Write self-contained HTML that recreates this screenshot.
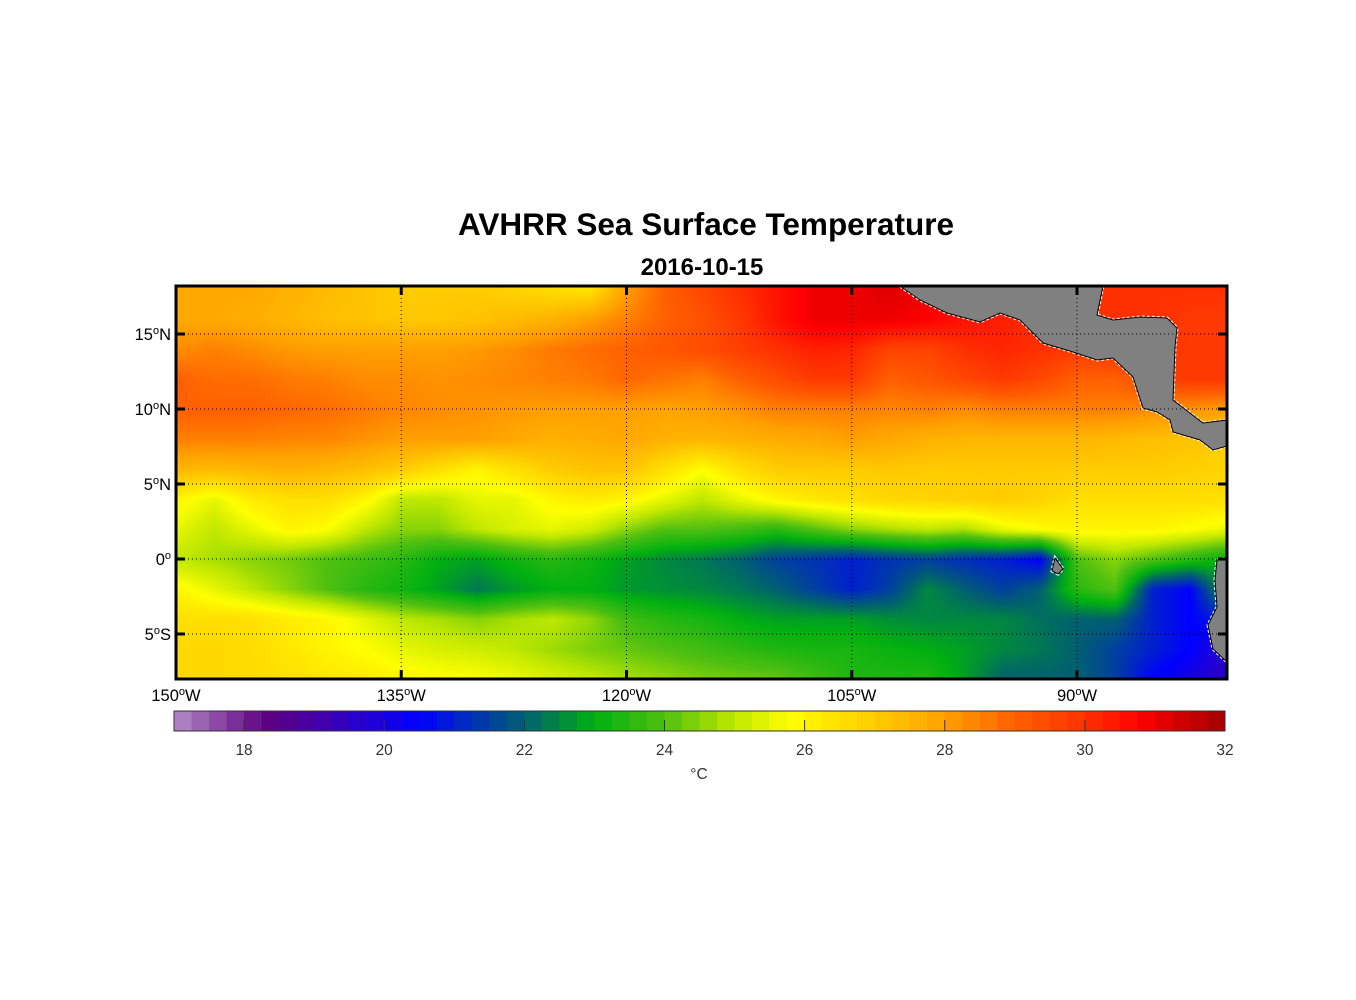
<!DOCTYPE html>
<html><head><meta charset="utf-8"><style>
html,body{margin:0;padding:0;background:#fff;}
#wrap{position:relative;width:1356px;height:1000px;font-family:"Liberation Sans",Arial,sans-serif;}
canvas{position:absolute;left:0;top:0;}
svg{position:absolute;left:0;top:0;}
</style></head><body>
<div id="wrap">
<canvas id="cv" width="1356" height="1000"></canvas>
<svg id="sv" width="1356" height="1000"></svg>
</div>
<script>
const lons = [];
for (let i = 0; i < 29; i++) lons.push(-150 + i * 2.5);
const lats = [18,16,14,12,10,8,6,4,2,0,-2,-4,-6,-8];
const sst = [
[27.8,27.8,27.8,27.6,27.4,27.2,27,27,27,26.8,26.6,26.4,28,29,29.5,30,30.5,31,31,31.2,31,30.5,30,30,30,30,30,30,30],
[27.8,27.8,27.7,27.5,27.3,27.2,27.1,27.1,27.2,27.4,27.6,28,28.5,29,29.3,29.8,30.5,31,31,31,30.8,30.5,30.3,30,30,30,30,29.8,29.8],
[28.3,28.5,28.3,28.1,28,28,28,28,28.1,28.3,28.6,28.8,29,29.2,29.4,29.7,30,30.3,30.2,29.6,29.6,30,30.2,30,29.8,30,30,29.8,29.8],
[29,28.8,28.8,28.6,28.5,28.3,28.3,28.2,28.3,28.4,28.5,28.6,28.9,28.7,28.5,29,29.4,29.8,29.8,29,29.2,29.5,29.8,29.5,29,29,29.5,29.8,29.8],
[29,29,29,28.9,28.8,28.6,28.4,28.3,28.2,28.1,28,28,28,27.9,28,28.2,28.5,28.5,28.5,28.4,28.5,28.3,28.5,28.5,28.5,28.5,28.3,28.2,28],
[28.5,28.5,28.5,28.4,28.4,28.2,28,28,28,27.8,27.6,27.7,27.8,27.6,27.5,27.6,27.7,27.8,28,27.8,27.6,27.5,27.5,27.5,27.5,27.4,27.3,27.2,27],
[27.5,27.4,27.5,27.6,27.5,27.3,27,26.5,26,26.5,27,27.2,27.2,26.5,25.8,26.5,27,27,27,27.1,27,27,27,27,27,27,27,26.9,26.8],
[26,25.5,26.2,26.5,26.5,26,25,25,25.5,25.5,26,26.2,26,25.5,25,25.5,26,26.3,26.5,26.7,26.8,26.9,27,26.8,26.5,26.5,26.5,26.5,26.5],
[25.5,25,25.5,26,25.8,25,24.5,24.5,25,25.3,25.5,25.2,24.5,24,24,23.8,23.5,24,24.5,24.8,25,24.8,25.5,25.8,26,26,26,25.8,25.5],
[25,24.8,24.5,24.3,24,23.8,23.5,23,22.8,23.2,23.5,23.2,22.8,22.5,22.3,22,21.5,21.3,21,21.3,21.5,21.2,21,20.5,24,24.5,24,23.5,23],
[26,25.5,25,24.5,24,23.5,23.2,22.8,22.3,22.7,23,23,22.7,22.6,22.5,22.3,22,21.5,21,21.5,22.5,22,21.5,22,23.5,24,21,20.5,23],
[26.5,26.5,26.5,26.2,26,25.5,25,24.8,24.5,24.8,25,24.6,23.8,23.5,23.3,23,22.8,22.8,22.8,22.6,22.5,22.5,22.5,22.2,22,22,21,20.5,21],
[26.7,26.7,26.6,26.3,26,25.8,25.5,25.3,25.2,25,24.7,24.4,24.2,24,23.8,23.6,23.4,23.3,23.3,23.1,23,22.8,22.5,22.3,22,21.5,21,20.5,19.5],
[26.7,26.7,26.6,26.5,26.3,26.2,26,25.9,25.8,25.6,25.3,25.1,24.8,24.6,24.4,24.3,24.2,23.8,23.4,23.4,23.4,22.8,22,22,22,21.5,20.5,20,19.5]
];
const lonTicks = [-150,-135,-120,-105,-90];
const lonTickLabels = ["150","135","120","105","90"];
const latTicks = [15,10,5,0,-5];
const latTickLabels = ["15","10","5","0","5"];
const latTickHemi = ["N","N","N","","S"];
const cbTicks = [18,20,22,24,26,28,30,32];
const cmapStops = [[17,[180,140,200]],[18.3,[95,0,128]],[19,[70,0,165]],[20.5,[0,0,255]],[22,[0,96,112]],[23,[0,176,16]],[24,[80,192,16]],[25,[192,232,0]],[25.8,[255,255,0]],[26.2,[255,236,0]],[27,[255,204,0]],[28,[255,160,0]],[29,[255,96,0]],[30,[255,48,0]],[30.8,[255,0,0]],[32,[160,0,0]]];

const X0=176, X1=1227, Y0=286, Y1=679;
const xs = lon => X0 + (lon + 150) * (1077 - 176) / 60;
const ys = lat => 559 - lat * 15;
const cbx = t => 174 + (t - 17) * (1225 - 174) / 15;

function cmap(t){
  if (t <= cmapStops[0][0]) return cmapStops[0][1];
  for (let i = 1; i < cmapStops.length; i++){
    if (t <= cmapStops[i][0]){
      const a = cmapStops[i-1], b = cmapStops[i];
      const f = (t - a[0]) / (b[0] - a[0]);
      return a[1].map((v, k) => Math.round(v + (b[1][k] - v) * f));
    }
  }
  return cmapStops[cmapStops.length-1][1];
}
function sample(lon, lat){
  let fi = (lon - lons[0]) / (lons[1] - lons[0]);
  let fj = (lats[0] - lat) / (lats[0] - lats[1]);
  fi = Math.max(0, Math.min(lons.length - 1.0001, fi));
  fj = Math.max(0, Math.min(lats.length - 1.0001, fj));
  const i = Math.floor(fi), j = Math.floor(fj), u = fi - i, v = fj - j;
  const a = sst[j][i], b = sst[j][i+1], c = sst[j+1][i], d = sst[j+1][i+1];
  return a*(1-u)*(1-v) + b*u*(1-v) + c*(1-u)*v + d*u*v;
}
const cv = document.getElementById('cv');
const ctx = cv.getContext('2d');
const w = X1 - X0, h = Y1 - Y0;
const img = ctx.createImageData(w, h);
for (let py = 0; py < h; py++){
  const lat = (559 - (Y0 + py)) / 15;
  for (let px = 0; px < w; px++){
    const lon = px * 60 / (1077 - 176) - 150;
    const c = cmap(sample(lon, lat));
    const o = (py * w + px) * 4;
    img.data[o] = c[0]; img.data[o+1] = c[1]; img.data[o+2] = c[2]; img.data[o+3] = 255;
  }
}
ctx.putImageData(img, X0, Y0);

const NS = 'http://www.w3.org/2000/svg';
const sv = document.getElementById('sv');
function el(tag, attrs, parent){
  const e = document.createElementNS(NS, tag);
  for (const k in attrs) e.setAttribute(k, attrs[k]);
  (parent || sv).appendChild(e);
  return e;
}
const landPaths = [
 "M900,286 L920,300 L947,313 L980,322 L1000,313 L1020,320 L1043,343 L1073,352 L1097,360 L1113,358 L1133,377 L1143,408 L1157,412 L1170,420 L1173,432 L1200,440 L1213,450 L1227,446 L1227,420 L1203,423 L1173,400 L1175,347 L1177,328 L1167,318 L1140,317 L1113,320 L1097,315 L1103,286 Z",
 "M1217,560 L1227,558 L1227,662 L1213,649 L1208,625 L1217,607 L1215,580 Z",
 "M1055,558 L1063,569 L1058,574 L1052,571 Z"
];
const landNames = ['central-america','south-america','galapagos'];
landPaths.forEach((d, i) => {
  el('path', {d: d, fill: 'none', stroke: '#fff', 'stroke-width': 3, 'stroke-dasharray': '3,2'});
  const p = el('path', {d: d, fill: '#808080', stroke: '#000', 'stroke-width': 1});
  
  
});
lonTicks.forEach(lon => {
  const l = el('line', {x1: xs(lon), x2: xs(lon), y1: Y0, y2: Y1, stroke: '#000', 'stroke-width': 1, 'stroke-dasharray': '1,3'});
  
  
  el('line', {x1: xs(lon), x2: xs(lon), y1: Y0, y2: Y0 + 9, stroke: '#000', 'stroke-width': 3});
  el('line', {x1: xs(lon), x2: xs(lon), y1: Y1 - 9, y2: Y1, stroke: '#000', 'stroke-width': 3});
});
latTicks.forEach(lat => {
  const l = el('line', {x1: X0, x2: X1, y1: ys(lat), y2: ys(lat), stroke: '#000', 'stroke-width': 1, 'stroke-dasharray': '1,3'});
  
  
  el('line', {x1: X0, x2: X0 + 9, y1: ys(lat), y2: ys(lat), stroke: '#000', 'stroke-width': 3});
  el('line', {x1: X1 - 9, x2: X1, y1: ys(lat), y2: ys(lat), stroke: '#000', 'stroke-width': 3});
});
const frame = el('rect', {x: X0, y: Y0, width: w, height: h, fill: 'none', stroke: '#000', 'stroke-width': 3});


lonTicks.forEach((lon, i) => {
  const t = el('text', {x: xs(lon), y: 701, 'text-anchor': 'middle', 'font-size': 16.5, fill: '#000'});
  
  
  t.innerHTML = lonTickLabels[i] + '<tspan dy="-6" font-size="11">o</tspan><tspan dy="6">W</tspan>';
});
latTicks.forEach((lat, i) => {
  const t = el('text', {x: 171, y: ys(lat) + 6, 'text-anchor': 'end', 'font-size': 16.5, fill: '#000'});
  
  
  t.innerHTML = latTickLabels[i] + '<tspan dy="-6" font-size="11">o</tspan><tspan dy="6">' + latTickHemi[i] + '</tspan>';
});
const title = el('text', {x: 706, y: 235, 'text-anchor': 'middle', 'font-size': 31.5, 'font-weight': 'bold', fill: '#000'});


title.textContent = 'AVHRR Sea Surface Temperature';
const sub = el('text', {x: 702, y: 275, 'text-anchor': 'middle', 'font-size': 24, 'font-weight': 'bold', fill: '#000'});


sub.textContent = '2016-10-15';
const nSteps = 60;
for (let i = 0; i < nSteps; i++){
  const t0 = 17 + i * 15 / nSteps, t1 = 17 + (i + 1) * 15 / nSteps;
  const c = cmap((t0 + t1) / 2);
  const r = el('rect', {x: cbx(t0), y: 711, width: cbx(t1) - cbx(t0) + 0.5, height: 20, fill: 'rgb(' + c.join(',') + ')'});
  
  
}
const cbf = el('rect', {x: 174, y: 711, width: 1051, height: 20, fill: 'none', stroke: '#333', 'stroke-width': 1});


cbTicks.forEach(t => {
  el('line', {x1: cbx(t), x2: cbx(t), y1: 720, y2: 731, stroke: '#333', 'stroke-width': 1});
  const lb = el('text', {x: cbx(t), y: 755, 'text-anchor': 'middle', 'font-size': 15.5, fill: '#333'});
  
  
  lb.textContent = String(t);
});
const unit = el('text', {x: 699, y: 779, 'text-anchor': 'middle', 'font-size': 15.5, fill: '#333'});


unit.textContent = '°C';
</script>
</body></html>
